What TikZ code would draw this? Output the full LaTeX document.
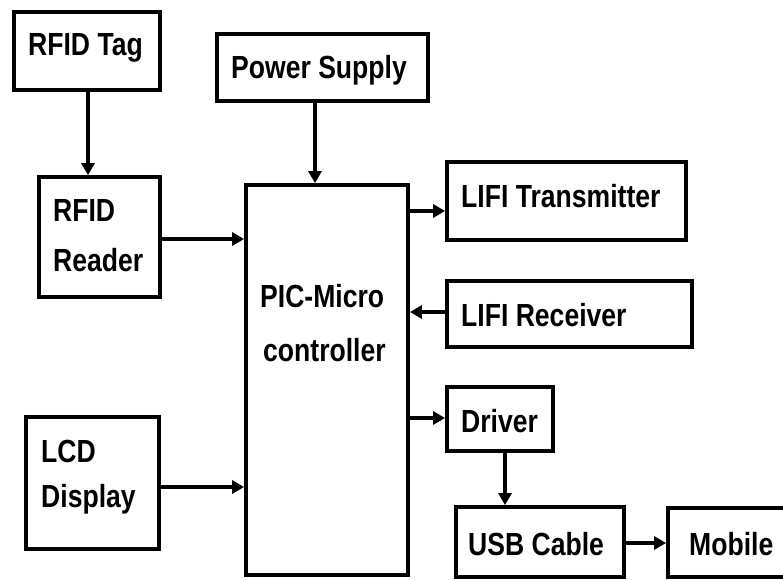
\documentclass[tikz,border=0pt]{standalone}
\usepackage{fontspec}
\setmainfont{Liberation Sans}[FakeStretch=0.83]
\usetikzlibrary{arrows.meta}
\begin{document}
\begin{tikzpicture}[x=1pt,y=-1pt,
  blk/.style={draw=black,line width=3.8pt,fill=white,inner sep=0pt},
  lbl/.style={anchor=base west,inner sep=0pt,font=\fontsize{32}{38}\selectfont\bfseries},
  conn/.style={line width=3.3pt,-{Triangle[length=12pt,width=13pt]}}]
\useasboundingbox (0,0) rectangle (783,579);
% boxes (corner to corner)
\node[blk,minimum width=146pt,minimum height=78pt] (tag) at (87,51) {};
\node[blk,minimum width=211pt,minimum height=67pt] (pow) at (322.5,67.5) {};
\node[blk,minimum width=121pt,minimum height=120pt] (rdr) at (99.5,237) {};
\node[blk,minimum width=162pt,minimum height=390pt] (pic) at (327,380) {};
\node[blk,minimum width=239pt,minimum height=78pt] (tx) at (566.5,201) {};
\node[blk,minimum width=245pt,minimum height=66pt] (rx) at (569.5,314) {};
\node[blk,minimum width=106pt,minimum height=64pt] (drv) at (500,419) {};
\node[blk,minimum width=168pt,minimum height=70pt] (usb) at (540,542) {};
\node[blk,minimum width=130pt,minimum height=69pt] (mob) at (733,542.5) {};
\node[blk,minimum width=133pt,minimum height=132pt] (lcd) at (92.5,483) {};
% texts
\node[lbl] (tagt) at (28,55) {RFID Tag};
\node[lbl] (powt) at (231,78) {Power Supply};
\node[lbl] (rdrt1) at (53,221) {RFID};
\node[lbl] (rdrt2) at (53,271) {Reader};
\node[lbl] (pict1) at (260,307) {PIC-Micro};
\node[lbl] (pict2) at (263,361) {controller};
\node[lbl] (txt) at (461,207) {LIFI Transmitter};
\node[lbl] (rxt) at (461,326) {LIFI Receiver};
\node[lbl] (drvt) at (461,432) {Driver};
\node[lbl] (usbt) at (468,555) {USB Cable};
\node[lbl] (mobt) at (689,555) {Mobile};
\node[lbl] (lcdt1) at (41,462) {LCD};
\node[lbl] (lcdt2) at (41,507) {Display};
% connectors
\draw[conn] (tag.south -| 88,0) -- (rdr.north -| 88,0);
\draw[conn] (pow.south -| 315,0) -- (pic.north -| 315,0);
\draw[conn] (rdr.east |- 0,239) -- (pic.west |- 0,239);
\draw[conn] (lcd.east |- 0,487) -- (pic.west |- 0,487);
\draw[conn] (pic.east |- 0,211) -- (tx.west |- 0,211);
\draw[conn] (rx.west |- 0,312) -- (pic.east |- 0,312);
\draw[conn] (pic.east |- 0,418) -- (drv.west |- 0,418);
\draw[conn] (drv.south -| 505,0) -- (usb.north -| 505,0);
\draw[conn] (usb.east |- 0,543) -- (mob.west |- 0,543);
\end{tikzpicture}
\end{document}
